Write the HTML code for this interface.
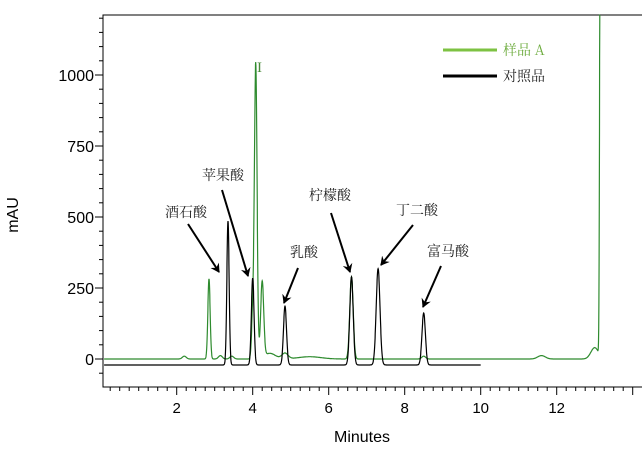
<!DOCTYPE html>
<html><head><meta charset="utf-8"><style>
body{margin:0;background:#fff;}
svg text{font-family:"Liberation Sans","Noto Sans CJK SC",sans-serif;}
.cn{font-family:"Noto Serif CJK SC","Noto Sans CJK SC",serif;font-size:14px;fill:#222;}
</style></head><body>
<svg id="chart" width="642" height="452" viewBox="0 0 642 452" xmlns="http://www.w3.org/2000/svg">
<defs><marker id="ah" markerWidth="10" markerHeight="10" refX="8" refY="5" orient="auto" markerUnits="userSpaceOnUse"><path d="M0,0 L9,5 L0,10 L3,5 Z" fill="#000"/></marker></defs>
<rect x="103" y="15" width="560" height="372" fill="none" stroke="#000" stroke-width="1"/>
<g id="axes"></g>
<g id="series"></g>
<text x="18" y="215" font-size="16" transform="rotate(-90 18 215)" text-anchor="middle">mAU</text>
<text x="362" y="442" font-size="16" text-anchor="middle">Minutes</text>
<g>
<line x1="443" y1="50" x2="497" y2="50" stroke="#7dc242" stroke-width="3"/>
<text class="cn" x="503" y="55" style="fill:#6aaa3a">样品 A</text>
<line x1="443" y1="76" x2="497" y2="76" stroke="#000" stroke-width="3"/>
<text class="cn" x="503" y="81">对照品</text>
</g>
<text x="257" y="72" font-size="15" style="fill:#4a8a3a;font-family:'Liberation Serif',serif">I</text>
<g id="annotations"></g>
</svg>
<script>
const xTicks=[2,4,6,8,10,12];
const yTicks=[0,250,500,750,1000];
const peakTimesSample=[2.2,2.85,3.15,3.45,4.0,4.08,4.25,4.45,4.85,5.5,6.6,8.5,11.6,13.0,13.14];
const peakHeightsSample=[10,282,12,10,150,1040,267,20,20,8,289,10,12,40,1300];
const peakWidthsSample=[0.05,0.03,0.05,0.05,0.03,0.035,0.04,0.15,0.08,0.3,0.045,0.05,0.1,0.1,0.015];
const peakTimesRef=[3.35,4.0,4.85,6.6,7.3,8.5];
const peakHeightsRef=[507,306,207,310,339,183];
const peakWidthsRef=[0.03,0.035,0.04,0.045,0.05,0.045];
const baselineSample=0, baselineRef=-21;
const annLabels=["酒石酸","苹果酸","乳酸","柠檬酸","丁二酸","富马酸"];
const annText=[[165,217],[202,180],[290,257],[309,200],[396,215],[427,256]];
const annArrow=[[188,224,219,272],[222,190,248,276],[298,268,284,303],[331,213,350,272],[413,225,381,265],[441,266,423,307]];

const X=t=>100.7+38*t;
const Y=v=>359-0.284*v;
const NS="http://www.w3.org/2000/svg";
function mk(tag,attrs,parent){const e=document.createElementNS(NS,tag);for(const k in attrs)e.setAttribute(k,attrs[k]);parent.appendChild(e);return e;}
const axes=document.getElementById('axes');
for(let t=0.25;t<=14;t+=0.25){const x=X(t);if(x<104||x>640)continue;const maj=Math.abs(t-Math.round(t/2)*2)<1e-6;
const l=mk('line',{x1:x,y1:387,x2:x,y2:maj?395:391,stroke:'#000'},axes);

}
xTicks.forEach(v=>{const t=mk('text',{x:X(v),y:413,'font-size':15,'text-anchor':'middle'},axes);t.textContent=v;

});
for(let v=-50;v<=1200;v+=50){const y=Y(v);if(y<16)continue;const maj=v%250===0;
const l=mk('line',{x1:maj?95:99,y1:y,x2:103,y2:y,stroke:'#000'},axes);

}
yTicks.forEach(v=>{const t=mk('text',{x:94,y:Y(v)+6,'font-size':16,'text-anchor':'end'},axes);t.textContent=v;

});
function trace(times,heights,widths,base,t0,t1){let d='';for(let t=t0;t<=t1+1e-9;t+=0.005){let v=base;for(let i=0;i<times.length;i++){const z=(t-times[i])/widths[i];v+=heights[i]*Math.exp(-0.5*z*z);}
let y=Math.max(Y(v),15);d+=(d?'L':'M')+X(t).toFixed(1)+','+y.toFixed(1);}return d;}
const ser=document.getElementById('series');
const ps=mk('path',{d:trace(peakTimesSample,peakHeightsSample,peakWidthsSample,baselineSample,0.09,13.14),fill:'none',stroke:'#2e8b2e','stroke-width':1.2},ser);


const pr=mk('path',{d:trace(peakTimesRef,peakHeightsRef,peakWidthsRef,baselineRef,0.09,10),fill:'none',stroke:'#000','stroke-width':1.2},ser);


const ann=document.getElementById('annotations');
annLabels.forEach((s,i)=>{const t=mk('text',{class:'cn',x:annText[i][0],y:annText[i][1]},ann);t.textContent=s;


const a=annArrow[i];const l=mk('line',{x1:a[0],y1:a[1],x2:a[2],y2:a[3],stroke:'#000','stroke-width':2,'marker-end':'url(#ah)'},ann);

});
</script>
</body></html>
